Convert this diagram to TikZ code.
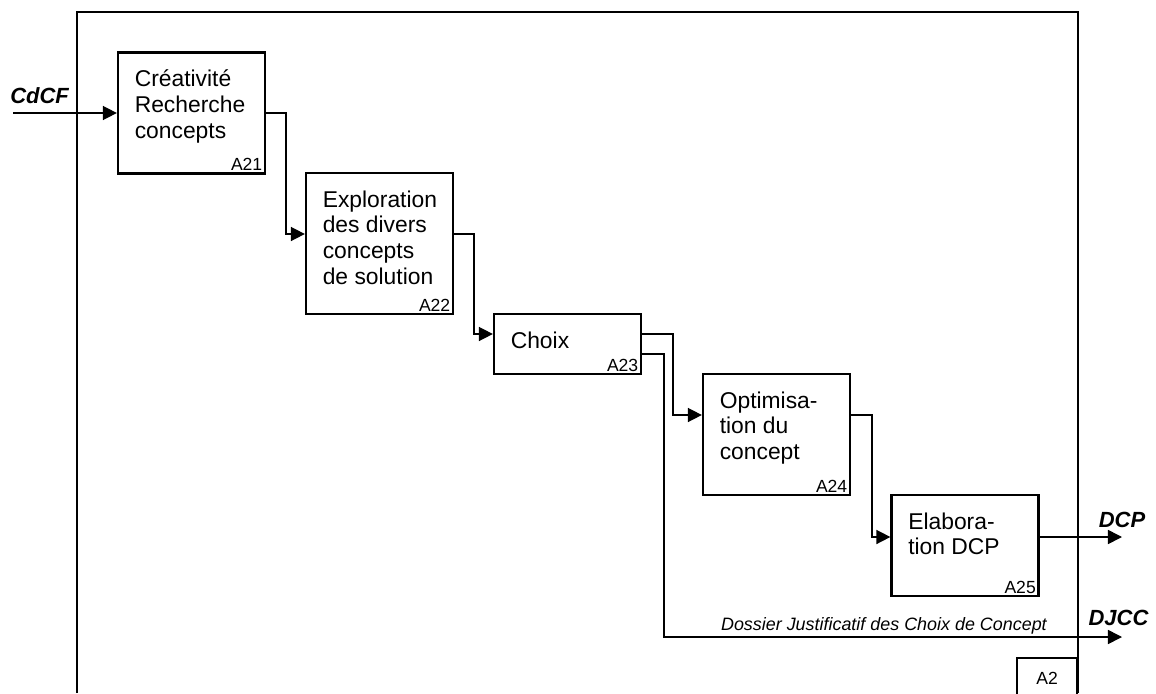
\documentclass[tikz,border=0pt]{standalone}
\usepackage{fontspec}
\setmainfont{Liberation Sans}
\usetikzlibrary{arrows.meta,positioning}

\begin{document}
\begin{tikzpicture}[
    x=0.02cm, y=-0.02cm,
    proc/.style={rectangle, draw, line width=1.3pt, minimum width=2.94cm, inner sep=0pt},
    ptext/.style={anchor=north west, align=left, font=\fontsize{13}{14.6}\selectfont, inner xsep=10pt, inner ysep=10.5pt},
    num/.style={anchor=south east, font=\fontsize{10}{12}\selectfont, inner sep=2pt},
    arrow/.style={-{Triangle[length=8pt,width=8pt]}, line width=0.9pt},
    ext/.style={font=\fontsize{12.5}{14}\bfseries\itshape\selectfont},
    note/.style={font=\fontsize{10.2}{12}\itshape\selectfont, inner sep=1pt}
]
\useasboundingbox (0,0) rectangle (1156,693);

% cadre A2
\draw[line width=1pt] (77,693) -- (77,12) -- (1078,12) -- (1078,693);
\node[draw, line width=1pt, anchor=north east, minimum width=1.2cm, minimum height=0.8cm,
      font=\fontsize{10}{12}\selectfont] (a2) at (1078,657) {A2};

% rangees des fleches
\path (0,234) coordinate (r2) (0,334) coordinate (r3) (0,354) coordinate (r3b)
      (0,415) coordinate (r4) (0,537) coordinate (r5);

\node[proc, minimum height=2.42cm, label={[ptext]north west:{Créativité\\Recherche\\concepts}},
      label={[num]south east:A21}] (a21) at (191.5,113) {};
\node[proc, minimum height=2.82cm, label={[ptext]north west:{Exploration\\des divers\\concepts\\de solution}},
      label={[num]south east:A22}] (a22) at (379.5,243.5) {};
\node[proc, minimum height=1.2cm, label={[ptext]north west:{Choix}},
      label={[num]south east:A23}] (a23) at (567.5,344) {};
\node[proc, minimum height=2.42cm, label={[ptext]north west:{Optimisa-\\tion du\\concept}},
      label={[num]south east:A24}] (a24) at (776.5,434.5) {};
\node[proc, minimum height=2.02cm, label={[ptext]north west:{Elabora-\\tion DCP}},
      label={[num]south east:A25}] (a25) at (965,545.5) {};

\coordinate (cdcf) at (13,113);
\coordinate (dcp) at (1122,537);
\coordinate (djcc) at (1122,637);

\draw[arrow] (cdcf) node[ext, anchor=south west, inner sep=0pt, xshift=-2pt, yshift=5pt] {CdCF} -- (a21.west);
\draw[arrow] (a21.east) -- ++(20,0) |- (a22.west |- r2);
\draw[arrow] (a22.east |- r2) -- ++(20,0) |- (a23.west |- r3);
\draw[arrow] (a23.east |- r3) -- ++(31,0) |- (a24.west |- r4);
\draw[arrow] (a24.east |- r4) -- ++(21,0) |- (a25.west |- r5);
\draw[arrow] (a25.east |- r5) -- (dcp) node[ext, above, inner sep=5pt] {DCP};
\draw[arrow] (a23.east |- r3b) -- ++(22,0)
    |- node[note, above, pos=0.74] {Dossier Justificatif des Choix de Concept} (djcc)
    node[ext, above, inner sep=6pt, xshift=-2pt] {DJCC};

\end{tikzpicture}
\end{document}
